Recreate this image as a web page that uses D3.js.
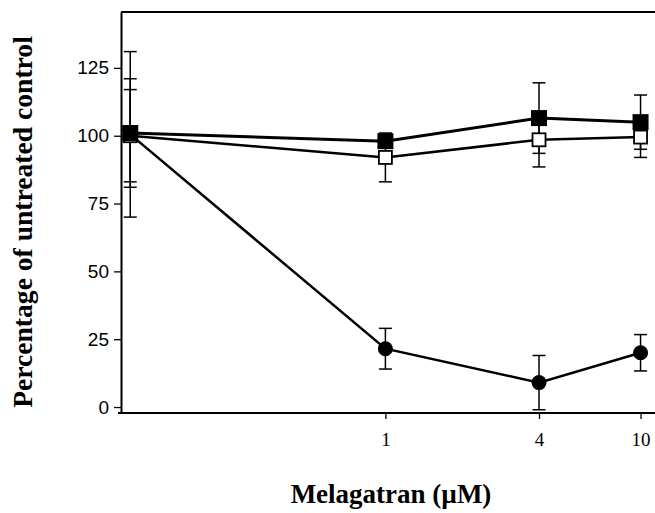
<!DOCTYPE html>
<html lang="en">
<head>
    <meta charset="UTF-8">
    <title>Melagatran</title>
    <style>
        body { margin: 0; background: #fff; }
        svg { display: block; }
    </style>
</head>
<body>
    <div id="chart"></div>

    <script src="https://d3js.org/d3.v7.min.js"></script>
    <script>
        // control is drawn at 0.1 on the log axis
        const doses = [0.1, 1, 4, 10];
        const xTicks = [1, 4, 10];
        const yTicks = [0, 25, 50, 75, 100, 125];

        const circleMean = [100.5, 21.5, 9, 20];
        const circleErr = [30.5, 7.5, 10, 6.7];
        const filledMean = [101, 98, 106.5, 105];
        const filledErr = [20, 2, 13, 10];
        const openMean = [100, 92, 98.5, 99.5];
        const openErr = [17, 9, 10, 7.5];

        const width = 655, height = 513;
        const margin = { top: 12, right: -2, bottom: 100, left: 121 };

        const svg = d3.select("#chart").append("svg")
            .attr("width", width)
            .attr("height", height);

        const x = d3.scaleLog()
            .domain([0.092, 11.6])
            .range([margin.left, width - margin.right]);

        const y = d3.scaleLinear()
            .domain([-2.2, 145.6])
            .range([height - margin.bottom, margin.top]);

        // frame: top line + axes
        svg.append("line")
            .attr("x1", margin.left).attr("x2", width - margin.right)
            .attr("y1", margin.top).attr("y2", margin.top)
            .attr("stroke", "#000").attr("stroke-width", 2);

        const yAxis = svg.append("g")
            .attr("transform", `translate(${margin.left},0)`)
            .call(d3.axisLeft(y).tickValues(yTicks).tickSize(7).tickPadding(5).tickSizeOuter(0));
        yAxis.select(".domain").attr("stroke-width", 2);
        yAxis.selectAll(".tick line").attr("stroke-width", 1.3);
        yAxis.selectAll("text")
            .attr("font-family", "'Liberation Sans', Arial, sans-serif")
            .attr("font-size", 19)
            .attr("fill", "#000");

        const xAxis = svg.append("g")
            .attr("transform", `translate(0,${height - margin.bottom})`)
            .call(d3.axisBottom(x).tickValues(xTicks).tickFormat(d3.format("d"))
                .tickSize(6).tickPadding(14).tickSizeOuter(0));
        xAxis.select(".domain").attr("stroke-width", 2)
            .attr("d", `M${margin.left - 3},0H${width - margin.right}`);
        xAxis.selectAll(".tick line").attr("stroke-width", 1.3);
        xAxis.selectAll("text")
            .attr("font-family", "'Liberation Serif', 'Times New Roman', serif")
            .attr("font-size", 19)
            .attr("fill", "#000");

        // axis titles
        svg.append("text")
            .attr("x", 391)
            .attr("y", 503)
            .attr("text-anchor", "middle")
            .attr("font-family", "'Liberation Serif', 'Times New Roman', serif")
            .attr("font-weight", "bold")
            .attr("font-size", 27)
            .text("Melagatran (\u00B5M)");

        svg.append("text")
            .attr("transform", "translate(32,222) rotate(-90)")
            .attr("text-anchor", "middle")
            .attr("font-family", "'Liberation Serif', 'Times New Roman', serif")
            .attr("font-weight", "bold")
            .attr("font-size", 27.6)
            .text("Percentage of untreated control");

        const series = [
            { name: "circle", mean: circleMean, err: circleErr, lineWidth: 2.5 },
            { name: "open", mean: openMean, err: openErr, lineWidth: 2.5 },
            { name: "filled", mean: filledMean, err: filledErr, lineWidth: 3 }
        ];

        const line = d3.line()
            .x((d, i) => x(doses[i]))
            .y(d => y(d));

        // lines
        series.forEach(s => {
            svg.append("path")
                .datum(s.mean)
                .attr("fill", "none")
                .attr("stroke", "#000")
                .attr("stroke-width", s.lineWidth)
                .attr("d", line);
        });

        // error bars
        series.forEach(s => {
            const g = svg.append("g").attr("class", "err-" + s.name)
                .attr("stroke", "#000").attr("stroke-width", 1.5);
            s.mean.forEach((m, i) => {
                const cx = x(doses[i]);
                const top = y(m + s.err[i]);
                const bot = y(m - s.err[i]);
                g.append("line").attr("x1", cx).attr("x2", cx).attr("y1", top).attr("y2", bot);
                g.append("line").attr("x1", cx - 6.5).attr("x2", cx + 6.5).attr("y1", top).attr("y2", top);
                g.append("line").attr("x1", cx - 6.5).attr("x2", cx + 6.5).attr("y1", bot).attr("y2", bot);
            });
        });

        // markers
        series.forEach(s => {
            const g = svg.append("g").attr("class", "mk-" + s.name);
            s.mean.forEach((m, i) => {
                const cx = x(doses[i]), cy = y(m);
                if (s.name === "circle") {
                    g.append("circle").attr("cx", cx).attr("cy", cy).attr("r", 7.5).attr("fill", "#000");
                } else if (s.name === "open") {
                    g.append("rect").attr("x", cx - 6.5).attr("y", cy - 6.5)
                        .attr("width", 13).attr("height", 13)
                        .attr("fill", "#fff").attr("stroke", "#000").attr("stroke-width", 1.8);
                } else {
                    g.append("rect").attr("x", cx - 8).attr("y", cy - 8)
                        .attr("width", 16).attr("height", 16)
                        .attr("fill", "#000");
                }
            });
        });
    </script>
</body>
</html>
